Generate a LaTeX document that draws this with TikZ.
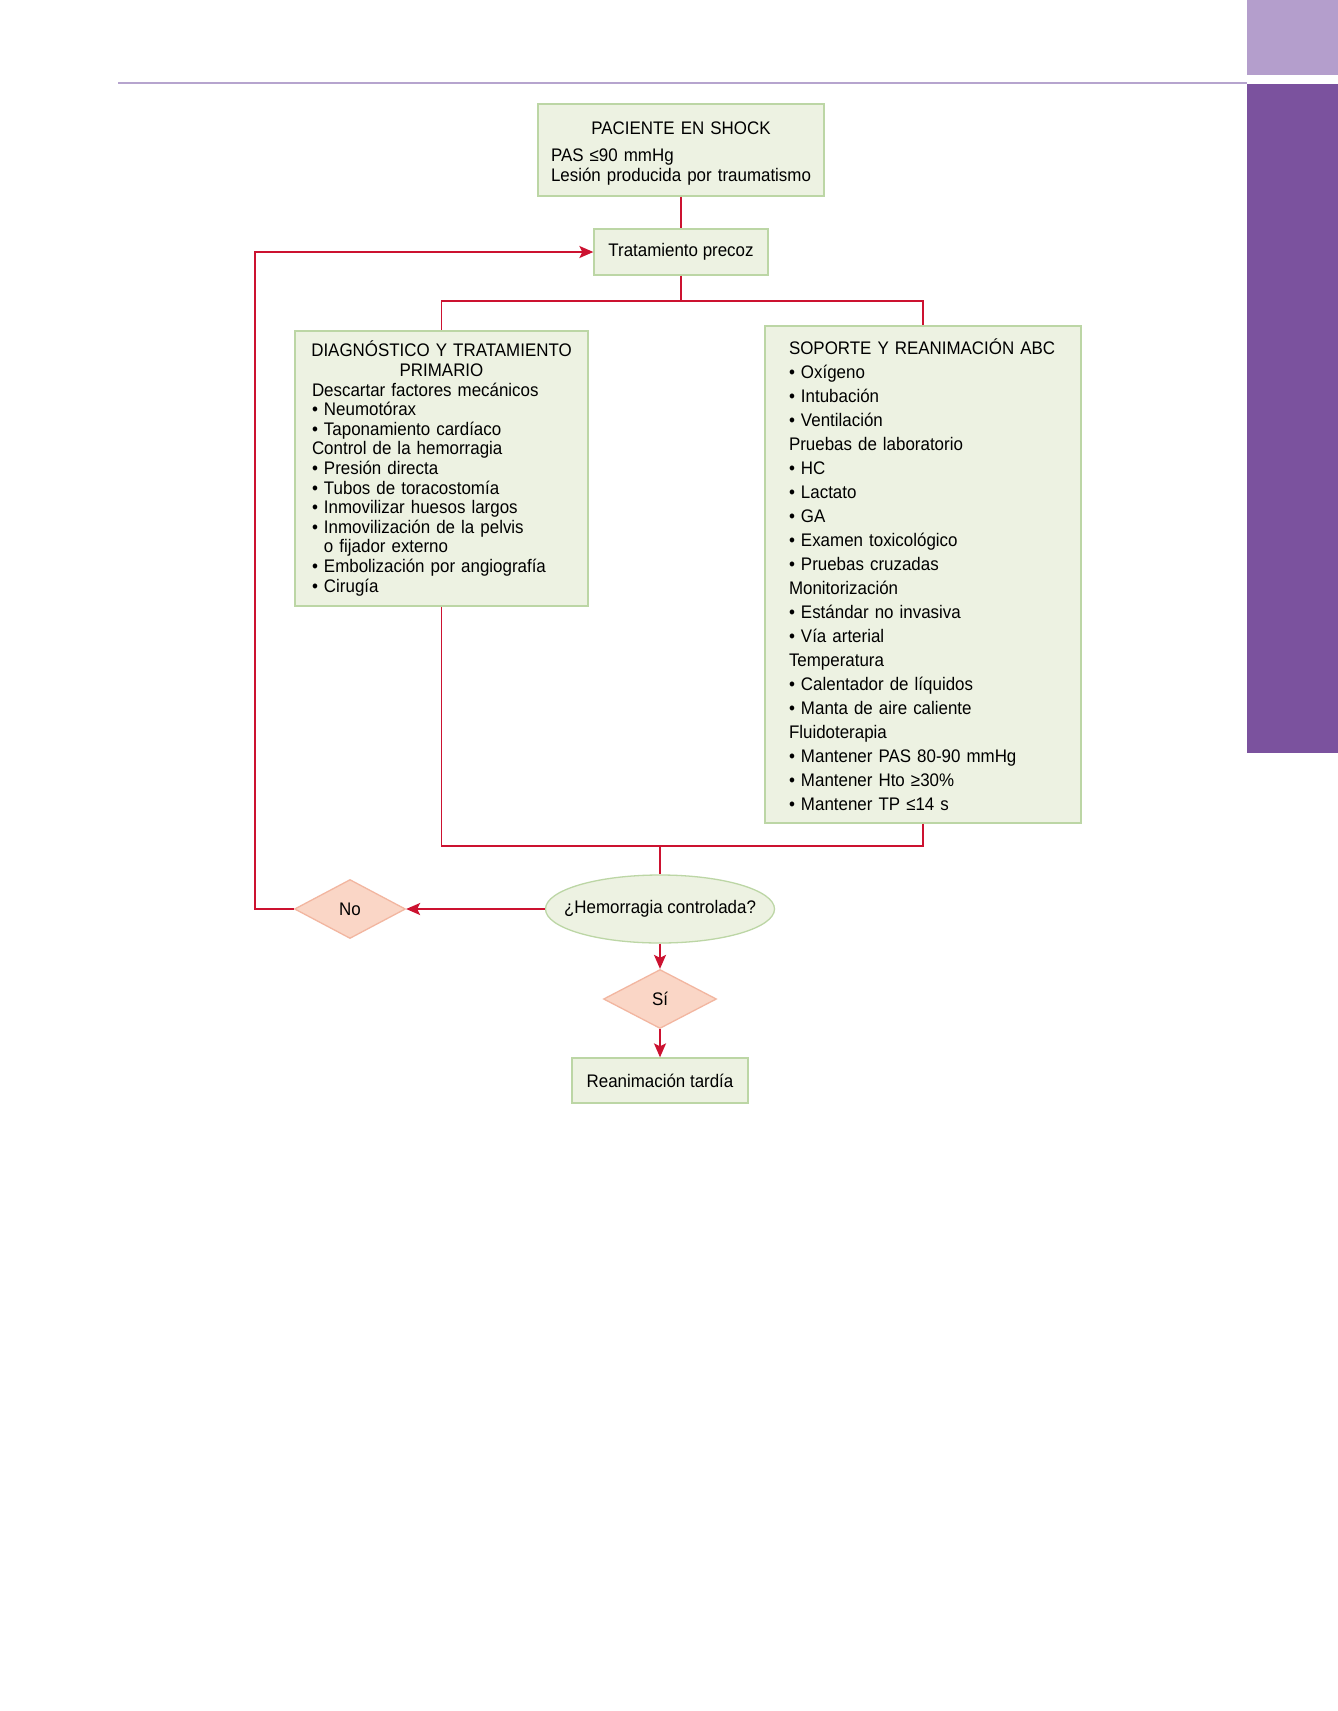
\documentclass[tikz,border=0pt]{standalone}
\usepackage{fontspec}
\setmainfont[FakeStretch=0.93]{Liberation Sans}
\usetikzlibrary{shapes.geometric,arrows.meta}
\definecolor{boxfill}{RGB}{237,242,226}
\definecolor{boxline}{RGB}{188,214,165}
\definecolor{linered}{RGB}{204,18,48}
\definecolor{dfill}{RGB}{250,214,198}
\definecolor{dline}{RGB}{242,182,160}
\definecolor{tablight}{RGB}{180,158,204}
\definecolor{tabdark}{RGB}{123,82,158}
\definecolor{rulecol}{RGB}{182,164,206}
\newcommand{\ctrline}[2]{\makebox[#1][c]{#2}}
\begin{document}
\begin{tikzpicture}[x=1pt,y=-1pt,
  box/.style={draw=boxline, fill=boxfill, line width=1.3pt, rectangle, inner sep=0pt, font=\fontsize{18.2}{19.6}\selectfont},
  decision/.style={diamond, draw=dline, fill=dfill, line width=1.3pt, inner sep=0pt, font=\fontsize{18.2}{19.6}\selectfont},
  question/.style={ellipse, draw=boxline, fill=boxfill, line width=1.3pt, inner sep=0pt, font=\fontsize{18.2}{19.6}\selectfont},
  conn/.style={draw=linered, line width=1.9pt},
  arr/.style={conn, -{Stealth[length=14pt,width=12pt,inset=3pt]}}]
\fill[white] (0,0) rectangle (1338,1711);
\useasboundingbox (0,0) rectangle (1338,1711);
% page decoration
\fill[tablight] (1247,0) rectangle (1338,75);
\fill[tabdark] (1247,84) rectangle (1338,753);
\draw[rulecol, line width=1.6pt] (118,83) -- (1247,83);
% nodes
\node[box, font=\fontsize{18.2}{20}\selectfont, minimum width=286, minimum height=92, inner xsep=13, text width=260, align=left] (shock) at (681,150)
  {\rule{0pt}{20pt}\ctrline{260pt}{PACIENTE EN SHOCK}\\[7pt] PAS ≤90 mmHg\\ Lesión producida por traumatismo};
\node[box, minimum width=174, minimum height=46] (trat) at (681,252) {Tratamiento precoz};
\node[box, minimum width=293, minimum height=275, inner xsep=17, text width=259, align=left] (diag) at (441.5,468.5)
  {\ctrline{259pt}{DIAGNÓSTICO Y TRATAMIENTO}\\
   \ctrline{259pt}{PRIMARIO}\\
   Descartar factores mecánicos\\
   • Neumotórax\\
   • Taponamiento cardíaco\\
   Control de la hemorragia\\
   • Presión directa\\
   • Tubos de toracostomía\\
   • Inmovilizar huesos largos\\
   • Inmovilización de la pelvis\\
   \hphantom{•\ }o fijador externo\\
   • Embolización por angiografía\\
   • Cirugía};
\node[box, font=\fontsize{18.2}{24}\selectfont, minimum width=316, minimum height=497, inner xsep=24, text width=268, align=left] (sop) at (923,574.5)
  {SOPORTE Y REANIMACIÓN ABC\\
   • Oxígeno\\
   • Intubación\\
   • Ventilación\\
   Pruebas de laboratorio\\
   • HC\\
   • Lactato\\
   • GA\\
   • Examen toxicológico\\
   • Pruebas cruzadas\\
   Monitorización\\
   • Estándar no invasiva\\
   • Vía arterial\\
   Temperatura\\
   • Calentador de líquidos\\
   • Manta de aire caliente\\
   Fluidoterapia\\
   • Mantener PAS 80-90 mmHg\\
   • Mantener Hto ≥30\%\\
   • Mantener TP ≤14 s};
\node[question, minimum width=229, minimum height=68] (hem) at (660,909) {\makebox[0pt][c]{¿Hemorragia controlada?}};
\node[decision, minimum width=111, minimum height=59] (no) at (350,909) {No};
\node[decision, minimum width=113, minimum height=59] (si) at (660,999) {Sí};
\node[box, minimum width=176, minimum height=45] (rean) at (660,1080.5) {Reanimación tardía};
% connectors
\coordinate (split) at (681,301);
\coordinate (merge) at (660,846);
\coordinate (loop) at (255,252);
\draw[conn] (shock.south) -- (trat.north);
\draw[conn] (trat.south) -- (split);
\draw[conn] (split) -| (diag.north);
\draw[conn] (split) -| (sop.north);
\draw[conn] (diag.south) |- (merge) -- (hem.north);
\draw[conn] (sop.south) |- (merge);
\draw[arr] (hem.west) -- (no.east);
\draw[arr] (no.west) -| (loop) -- (trat.west);
\draw[arr] (hem.south) -- (si.north);
\draw[arr] (si.south) -- (rean.north);
\end{tikzpicture}
\end{document}
